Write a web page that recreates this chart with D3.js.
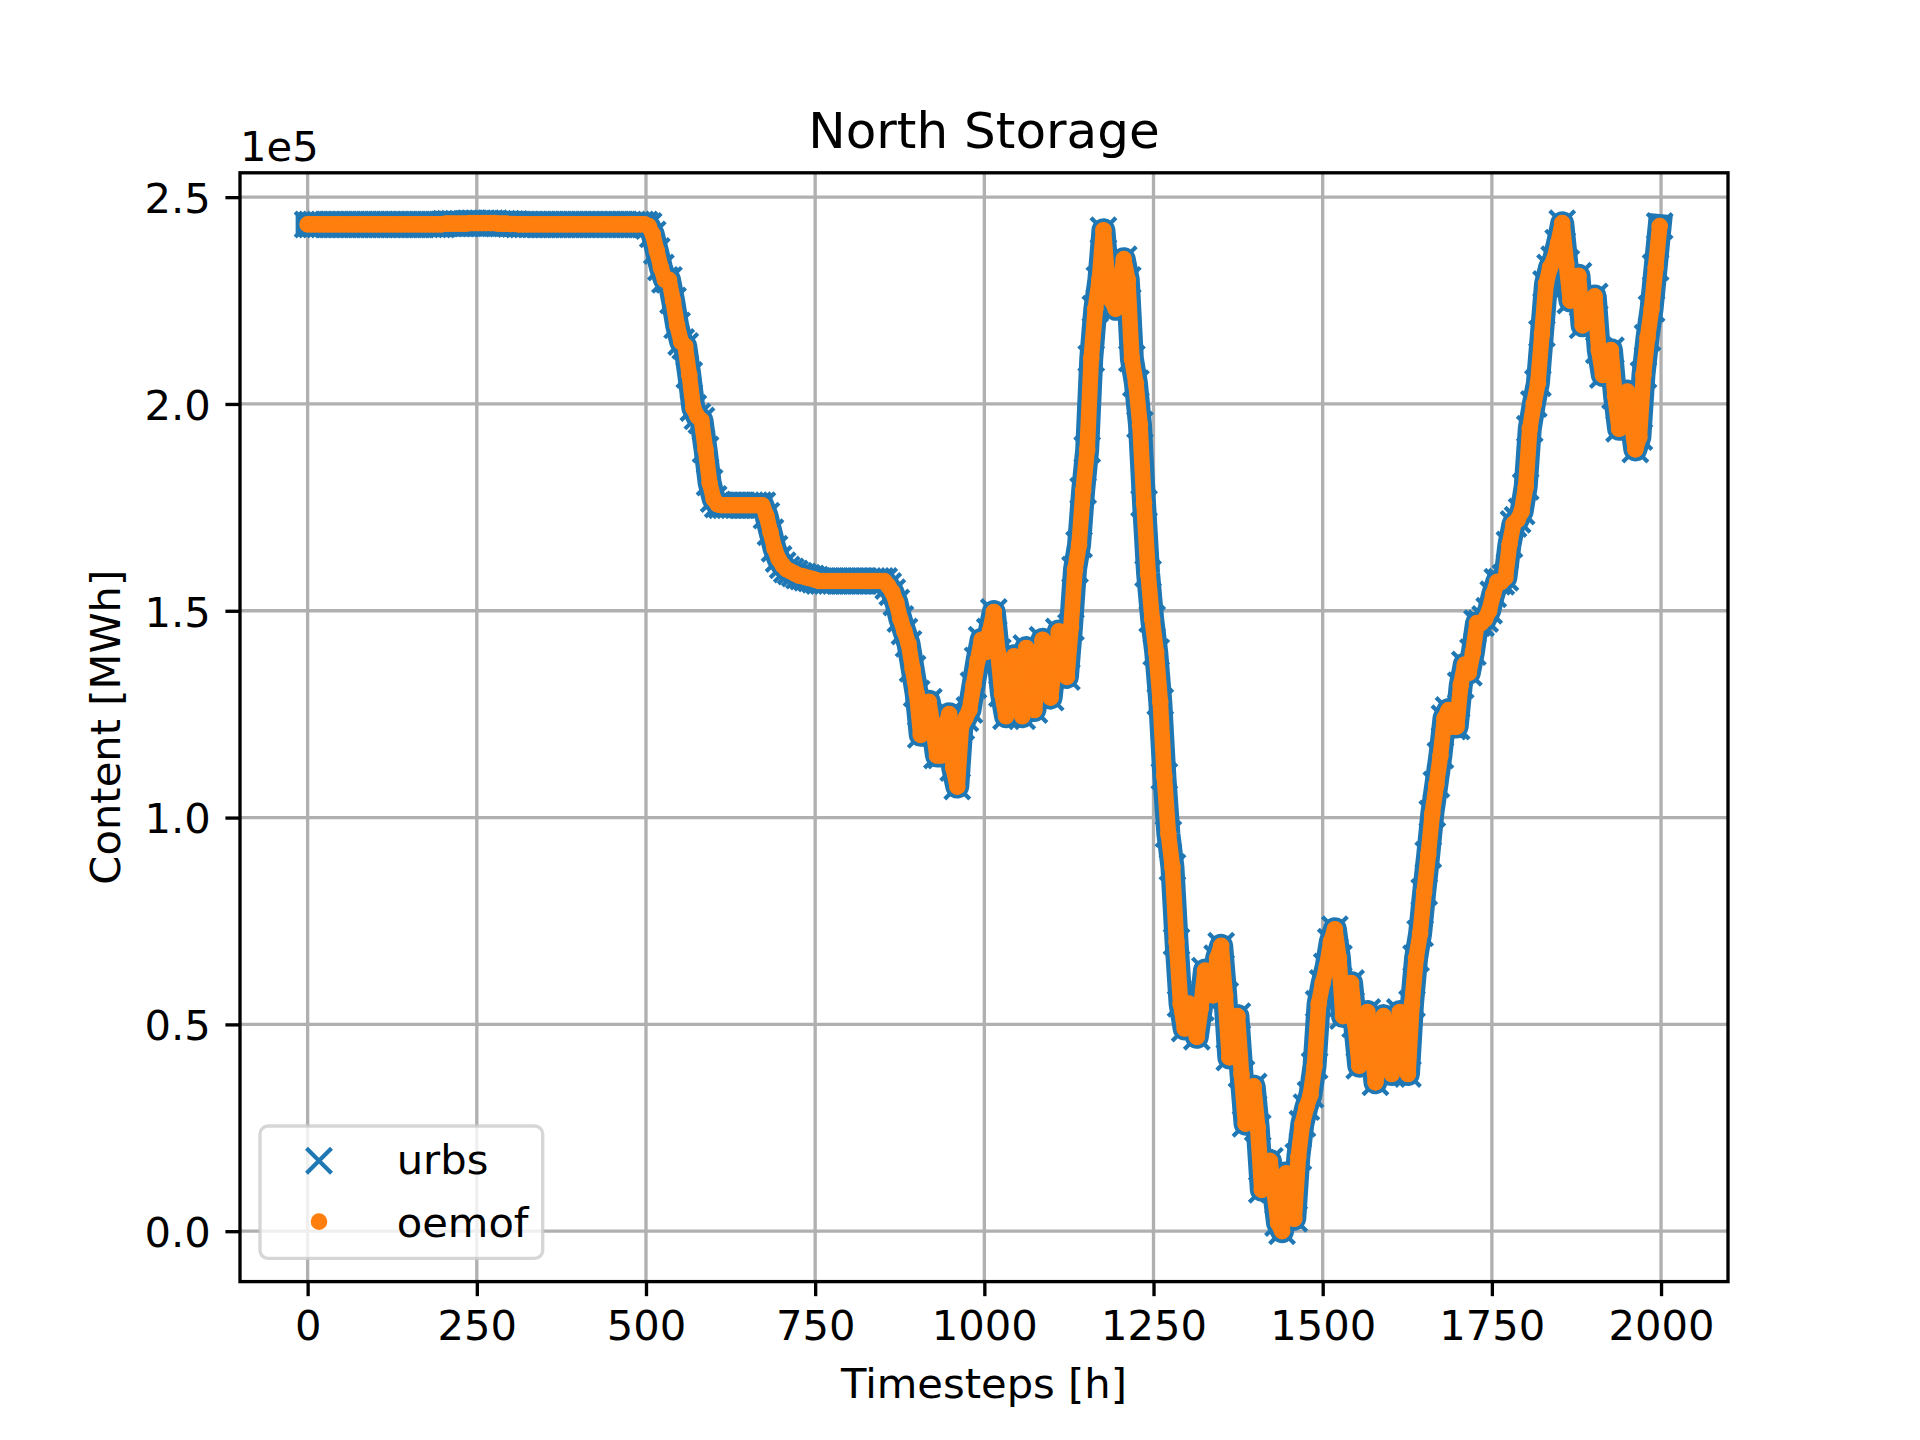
<!DOCTYPE html>
<html>
<head>
<meta charset="utf-8">
<script src="https://cdn.jsdelivr.net/npm/d3@7"></script>
<style>
html,body{margin:0;padding:0;background:#ffffff;}
svg{display:block;font-family:"DejaVu Sans",sans-serif;}
</style>
</head>
<body>
<svg id="chart" width="1920" height="1440"></svg>
<script>
// ---------------- data ----------------
const chartTitle = "North Storage";
const xLabel = "Timesteps [h]";
const yLabel = "Content [MWh]";
const yOffsetText = "1e5";
const seriesNames = ["urbs", "oemof"];
const xTickValues = [0, 250, 500, 750, 1000, 1250, 1500, 1750, 2000];
const yTickValues = [0.0, 0.5, 1.0, 1.5, 2.0, 2.5];
const firstHour = 0, lastHour = 1999, sampleStep = 6;

// storage content in units of 1e5 MWh, read every 6 h (t = 0, 6, 12, ... 1998)
const urbsE5 = [
  2.434,2.434,2.434,2.434,2.434,2.434,2.434,2.434,2.434,2.434, // 0
  2.434,2.434,2.434,2.434,2.434,2.434,2.434,2.434,2.434,2.434, // 60
  2.434,2.434,2.434,2.434,2.434,2.434,2.434,2.434,2.434,2.434, // 120
  2.434,2.434,2.434,2.434,2.436,2.436,2.436,2.436,2.436,2.436, // 180
  2.437,2.437,2.437,2.437,2.437,2.437,2.437,2.436,2.436,2.436, // 240
  2.435,2.435,2.434,2.434,2.434,2.434,2.434,2.434,2.434,2.434, // 300
  2.434,2.434,2.434,2.434,2.434,2.434,2.434,2.434,2.434,2.434, // 360
  2.434,2.434,2.434,2.434,2.434,2.434,2.434,2.434,2.434,2.434, // 420
  2.434,2.434,2.434,2.434,2.43,2.41,2.37,2.33,2.30,2.30,       // 480
  2.25,2.19,2.15,2.14,2.07,1.99,1.97,1.96,1.89,1.81,           // 540
  1.77,1.757,1.755,1.755,1.755,1.755,1.755,1.755,1.755,1.755,  // 600
  1.755,1.755,1.755,1.73,1.69,1.65,1.625,1.61,1.60,1.595,      // 660
  1.59,1.585,1.583,1.58,1.578,1.575,1.572,1.572,1.572,1.572,   // 720
  1.572,1.572,1.572,1.572,1.572,1.572,1.572,1.572,1.572,1.572, // 780
  1.572,1.572,1.572,1.56,1.545,1.52,1.48,1.45,1.42,1.36,       // 840
  1.30,1.20,1.24,1.28,1.22,1.15,1.15,1.22,1.25,1.12,           // 900
  1.075,1.22,1.24,1.26,1.32,1.38,1.43,1.40,1.45,1.497,         // 960
  1.40,1.30,1.245,1.38,1.39,1.30,1.245,1.41,1.35,1.26,         // 1020
  1.35,1.43,1.38,1.29,1.38,1.45,1.40,1.34,1.46,1.60,           // 1080
  1.66,1.79,1.89,2.11,2.23,2.30,2.42,2.30,2.25,2.23,           // 1140
  2.28,2.35,2.30,2.11,2.05,1.95,1.76,1.59,1.48,1.40,           // 1200
  1.28,1.10,0.96,0.88,0.70,0.55,0.49,0.55,0.50,0.47,           // 1260
  0.54,0.63,0.58,0.57,0.66,0.69,0.57,0.42,0.47,0.52,           // 1320
  0.38,0.26,0.30,0.35,0.25,0.10,0.12,0.17,0.10,0.02,           // 1380
  0.00,0.14,0.10,0.03,0.18,0.26,0.30,0.33,0.40,0.55,           // 1440
  0.60,0.64,0.70,0.73,0.66,0.52,0.57,0.60,0.50,0.40,           // 1500
  0.45,0.53,0.46,0.36,0.42,0.52,0.46,0.38,0.44,0.53,           // 1560
  0.46,0.38,0.55,0.66,0.72,0.82,0.91,1.01,1.08,1.15,           // 1620
  1.24,1.26,1.22,1.22,1.32,1.37,1.35,1.40,1.47,1.47,           // 1680
  1.48,1.50,1.54,1.57,1.57,1.58,1.66,1.71,1.72,1.74,           // 1740
  1.80,1.94,2.00,2.05,2.17,2.29,2.33,2.35,2.39,2.437,          // 1800
  2.34,2.25,2.30,2.31,2.19,2.20,2.25,2.26,2.13,2.07,           // 1860
  2.10,2.13,2.02,1.94,1.98,2.03,1.96,1.89,1.92,2.07,           // 1920
  2.16,2.23,2.33,2.43                                          // 1980
];
// oemof reproduces urbs to within the drawing resolution
const oemofE5 = urbsE5.slice();
const timesteps = urbsE5.map((_, i) => firstHour + i * sampleStep);

// ---------------- layout ----------------
const W = 1920, H = 1440;
const pt = 300 / 72;
const ax = {left: 240, right: 1728, top: 172.8, bottom: 1281.6};
const fs = 10 * pt;           // 41.67 px
const lw = 0.8 * pt;          // 3.33 px
const blue = "#1f77b4", orange = "#ff7f0e";

const svg = d3.select("#chart");
svg.append("rect").attr("width", W).attr("height", H).attr("fill", "#fff");

const xSpan = lastHour - firstHour;
const x = d3.scaleLinear()
  .domain([firstHour - 0.05 * xSpan, lastHour + 0.05 * xSpan])
  .range([ax.left, ax.right]);
const yExt = d3.extent(urbsE5.concat(oemofE5));
const ySpan = yExt[1] - yExt[0];
const y = d3.scaleLinear()
  .domain([yExt[0] - 0.05 * ySpan, yExt[1] + 0.05 * ySpan])
  .range([ax.bottom, ax.top]);

// grid
const grid = svg.append("g");
grid.selectAll("line.gx").data(xTickValues).join("line")
  .attr("x1", d => x(d)).attr("x2", d => x(d))
  .attr("y1", ax.top).attr("y2", ax.bottom)
  .attr("stroke", "#b0b0b0").attr("stroke-width", lw);
grid.selectAll("line.gy").data(yTickValues).join("line")
  .attr("y1", d => y(d)).attr("y2", d => y(d))
  .attr("x1", ax.left).attr("x2", ax.right)
  .attr("stroke", "#b0b0b0").attr("stroke-width", lw);

// clip
svg.append("clipPath").attr("id", "clip").append("rect")
  .attr("x", ax.left).attr("y", ax.top)
  .attr("width", ax.right - ax.left).attr("height", ax.bottom - ax.top);
const plot = svg.append("g").attr("clip-path", "url(#clip)");

const msize = 6 * pt;              // 25 px
const mew = 1 * pt;                // 4.17 px
const xPath = `M${-msize/2},${-msize/2}L${msize/2},${msize/2}M${-msize/2},${msize/2}L${msize/2},${-msize/2}`;
const dotR = (0.5 * msize) / 2;    // 6.25 px

const urbsData = timesteps.map((t, i) => [t, urbsE5[i]]);
const oemofData = timesteps.map((t, i) => [t, oemofE5[i]]);
const lineGen = d3.line().x(d => x(d[0])).y(d => y(d[1]));

// dense hourly markers form a continuous band; a band under the sampled markers reproduces it
plot.append("path").attr("d", lineGen(urbsData))
  .attr("fill", "none").attr("stroke", blue)
  .attr("stroke-width", 24).attr("stroke-linejoin", "round").attr("stroke-linecap", "square");
plot.append("g").selectAll("path").data(urbsData).join("path")
  .attr("d", xPath)
  .attr("transform", d => `translate(${x(d[0])},${y(d[1])})`)
  .attr("fill", "none").attr("stroke", blue).attr("stroke-width", mew);

plot.append("path").attr("d", lineGen(oemofData))
  .attr("fill", "none").attr("stroke", orange)
  .attr("stroke-width", 2 * dotR + mew - 1).attr("stroke-linejoin", "round").attr("stroke-linecap", "round");
plot.append("g").selectAll("circle").data(oemofData).join("circle")
  .attr("cx", d => x(d[0])).attr("cy", d => y(d[1])).attr("r", dotR)
  .attr("fill", orange).attr("stroke", orange).attr("stroke-width", mew);

// axes
const xAxis = d3.axisBottom(x).tickValues(xTickValues).tickFormat(d3.format("d"))
  .tickSize(3.5 * pt).tickPadding(3.5 * pt);
const yAxis = d3.axisLeft(y).tickValues(yTickValues).tickFormat(d3.format(".1f"))
  .tickSize(3.5 * pt).tickPadding(3.5 * pt);

const gx = svg.append("g").attr("transform", `translate(0,${ax.bottom})`).call(xAxis);
const gy = svg.append("g").attr("transform", `translate(${ax.left},0)`).call(yAxis);
[gx, gy].forEach(g => {
  g.select(".domain").remove();
  g.selectAll(".tick line").attr("stroke", "#000").attr("stroke-width", lw);
  g.selectAll(".tick text").attr("fill", "#000")
    .style("font-size", fs + "px").style("font-family", '"DejaVu Sans", sans-serif');
});
gy.selectAll(".tick text").attr("dy", "0.37em");

// spines
svg.append("rect")
  .attr("x", ax.left).attr("y", ax.top)
  .attr("width", ax.right - ax.left).attr("height", ax.bottom - ax.top)
  .attr("fill", "none").attr("stroke", "#000").attr("stroke-width", lw)
  .attr("stroke-linejoin", "miter");

// texts
svg.append("text").text(chartTitle)
  .attr("x", (ax.left + ax.right) / 2).attr("y", 148)
  .attr("text-anchor", "middle").style("font-size", (12 * pt) + "px");
svg.append("text").text(yOffsetText)
  .attr("x", ax.left).attr("y", 161)
  .attr("text-anchor", "start").style("font-size", fs + "px");
svg.append("text").text(xLabel)
  .attr("x", (ax.left + ax.right) / 2).attr("y", 1398)
  .attr("text-anchor", "middle").style("font-size", fs + "px");
svg.append("text").text(yLabel)
  .attr("transform", `translate(120,${(ax.top + ax.bottom) / 2}) rotate(-90)`)
  .attr("text-anchor", "middle").style("font-size", fs + "px");

// legend
const lg = svg.append("g");
lg.append("rect")
  .attr("x", 260).attr("y", 1126).attr("width", 282.7).attr("height", 132.3)
  .attr("rx", 8).attr("ry", 8)
  .attr("fill", "rgba(255,255,255,0.8)")
  .attr("stroke", "rgba(204,204,204,0.8)").attr("stroke-width", lw);
lg.append("path").attr("d", xPath)
  .attr("transform", "translate(319,1160.7)")
  .attr("fill", "none").attr("stroke", blue).attr("stroke-width", mew);
lg.append("circle").attr("cx", 319).attr("cy", 1221.7).attr("r", dotR)
  .attr("fill", orange).attr("stroke", orange).attr("stroke-width", mew);
lg.append("text").text(seriesNames[0]).attr("x", 396.7).attr("y", 1174)
  .style("font-size", fs + "px");
lg.append("text").text(seriesNames[1]).attr("x", 396.7).attr("y", 1236.5)
  .style("font-size", fs + "px");
</script>
</body>
</html>
